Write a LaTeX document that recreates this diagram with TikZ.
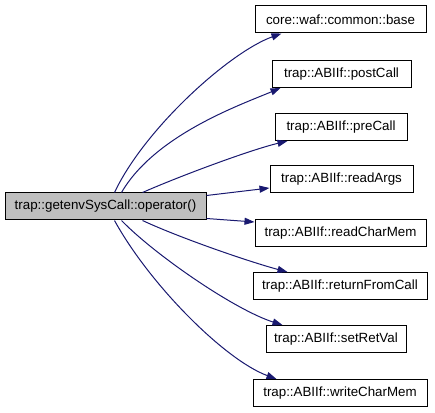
\documentclass[tikz,border=0pt]{standalone}
\usepackage{fontspec}
\setmainfont{Liberation Sans}
\usetikzlibrary{arrows.meta,calc}
\definecolor{edgeblue}{HTML}{191970}
\definecolor{mainfill}{HTML}{BFBFBF}
\begin{document}
\begin{tikzpicture}[x=0.75pt,y=-0.75pt,
  box/.style={draw=black,line width=0.75pt,inner sep=0pt,minimum height=20.25pt,
    font=\fontsize{10}{12}\selectfont,anchor=center},
  mainbox/.style={box,fill=mainfill},
  edge/.style={draw=edgeblue,line width=0.75pt,-{Triangle[length=7.5pt,width=5.25pt]}}]
\useasboundingbox (0,0) rectangle (435,413);
\node[mainbox,minimum width=150.75pt] (main) at (105.5,206.5) {trap::getenvSysCall::operator()};
\node[box,minimum width=128.25pt] (base) at (340.5,19.5) {core::waf::common::base};
\node[box,minimum width=104.25pt] (post) at (341.5,74) {trap::ABIIf::postCall};
\node[box,minimum width=99pt] (pre) at (341,127) {trap::ABIIf::preCall};
\node[box,minimum width=107.25pt] (args) at (341.5,179) {trap::ABIIf::readArgs};
\node[box,minimum width=128.25pt] (rcm) at (340.5,233) {trap::ABIIf::readCharMem};
\node[box,minimum width=130.5pt] (rfc) at (340,286) {trap::ABIIf::returnFromCall};
\node[box,minimum width=105pt] (srv) at (336,339) {trap::ABIIf::setRetVal};
\node[box,minimum width=130.5pt] (wcm) at (340,393) {trap::ABIIf::writeCharMem};
% edges
\draw[edge] ($(main.north west)+(110,0)$) .. controls (145,128) and (230,52) .. ($(base.south west)+(27,0)$);
\draw[edge] ($(main.north west)+(117,0)$) .. controls (155,135) and (240,105) .. ($(post.south west)+(9,0)$);
\draw[edge] ($(main.north west)+(138,0)$) .. controls (180,176) and (250,150) .. ($(pre.south west)+(13,0)$);
\draw[edge] ($(main.north east)+(0,3)$) -- ($(args.south west)+(0,-5)$);
\draw[edge] ($(main.south east)+(0,-2)$) -- ($(rcm.north west)+(0,3)$);
\draw[edge] ($(main.south west)+(138,0)$) .. controls (180,238) and (250,262) .. ($(rfc.north west)+(35,0)$);
\draw[edge] ($(main.south west)+(117,0)$) .. controls (155,255) and (235,310) .. ($(srv.north west)+(17,0)$);
\draw[edge] ($(main.south west)+(110,0)$) .. controls (150,285) and (225,360) .. ($(wcm.north west)+(24,0)$);
\end{tikzpicture}
\end{document}
